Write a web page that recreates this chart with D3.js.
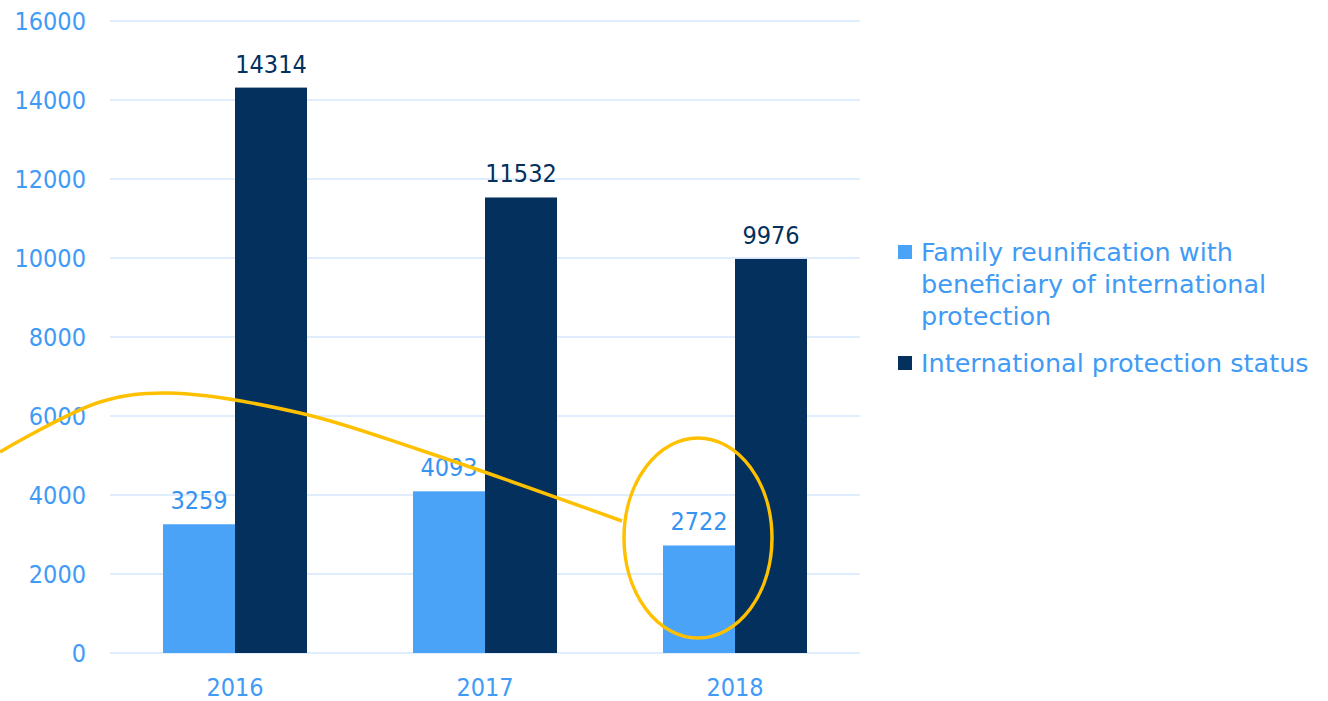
<!DOCTYPE html>
<html>
<head>
<meta charset="utf-8">
<script src="https://cdn.jsdelivr.net/npm/d3@7"></script>
<style>
  body { margin: 0; background: #fff; }
  text { font-family: "DejaVu Sans Condensed", "DejaVu Sans", sans-serif; }
  .legend text { font-family: "DejaVu Sans", sans-serif; }
</style>
</head>
<body>
<div id="chart"></div>
<script>
// data
const years = ["2016", "2017", "2018"];
const seriesNames = ["Family reunification with beneficiary of international protection",
                     "International protection status"];
const familyReunification = [3259, 4093, 2722];
const protectionStatus = [14314, 11532, 9976];
const yTicks = [0, 2000, 4000, 6000, 8000, 10000, 12000, 14000, 16000];
const legendLines = [["Family reunification with", "beneficiary of international", "protection"],
                     ["International protection status"]];

// hand-drawn highlight: [band position, value]
const annotationCurve = [[-0.44, 5089], [-0.04, 6354], [0.228, 6582], [0.76, 6076], [1.24, 5139], [2.048, 3342]];
const annotationEllipse = {u: 2.352, v: 2911, ru: 0.296, rv: 2532};

const width = 1328, height = 701;
const margin = {top: 21, right: 468, bottom: 48, left: 110};
const plotW = width - margin.left - margin.right,
      plotH = height - margin.top - margin.bottom;

const colors = ["#4ba3f8", "#03305c"];
const labelColors = ["#3593f2", "#03305c"];
const textBlue = "#3f9bf5";

const svg = d3.select("#chart")
  .append("svg")
  .attr("width", width)
  .attr("height", height);

const g = svg.append("g")
  .attr("transform", `translate(${margin.left}, ${margin.top})`);

const x0 = d3.scaleBand()
  .domain(years)
  .range([0, plotW])
  .paddingInner(0)
  .paddingOuter(0);

const x1 = d3.scaleBand()
  .domain([0, 1])
  .range([53, x0.bandwidth() - 53]);

const y = d3.scaleLinear()
  .domain([0, 16000])
  .range([plotH, 0]);

// gridlines
g.append("g")
  .selectAll("line")
  .data(yTicks)
  .join("line")
  .attr("x1", 0)
  .attr("x2", plotW)
  .attr("y1", d => y(d))
  .attr("y2", d => y(d))
  .attr("stroke", "#d5e7fb")
  .attr("stroke-width", 1.5);

// y axis labels
const yAxis = g.append("g")
  .call(d3.axisLeft(y).tickValues(yTicks).tickSize(0).tickPadding(24).tickFormat(d3.format("d")));
yAxis.select(".domain").remove();
yAxis.selectAll("text")
  .attr("fill", textBlue)
  .style("font-size", "25px");

// x axis labels
const xAxis = g.append("g")
  .attr("transform", `translate(0, ${plotH})`)
  .call(d3.axisBottom(x0).tickSize(0).tickPadding(25));
xAxis.select(".domain").remove();
xAxis.selectAll("text")
  .attr("fill", textBlue)
  .style("font-size", "25px");

const rows = years.map((yr, i) => ({year: yr, values: [familyReunification[i], protectionStatus[i]]}));

const groups = g.append("g")
  .selectAll("g")
  .data(rows)
  .join("g")
  .attr("transform", d => `translate(${x0(d.year)}, 0)`);

groups.selectAll("rect")
  .data(d => d.values.map((v, k) => ({k, v})))
  .join("rect")
  .attr("x", d => x1(d.k))
  .attr("width", x1.bandwidth())
  .attr("y", d => y(d.v))
  .attr("height", d => y(0) - y(d.v))
  .attr("fill", d => colors[d.k]);

groups.selectAll("text.lbl")
  .data(d => d.values.map((v, k) => ({k, v})))
  .join("text")
  .attr("class", "lbl")
  .attr("x", d => x1(d.k) + x1.bandwidth() / 2)
  .attr("y", d => y(d.v) - 15)
  .attr("text-anchor", "middle")
  .attr("fill", d => labelColors[d.k])
  .style("font-size", "25px")
  .text(d => d.v);

// legend
const legend = svg.append("g")
  .attr("class", "legend")
  .attr("transform", "translate(898, 0)");
const legendSquare = [245, 356];
const legendBase = [261, 372];
legendLines.forEach((lines, k) => {
  const item = legend.append("g");
  item.append("rect")
    .attr("y", legendSquare[k])
    .attr("width", 14)
    .attr("height", 14)
    .attr("fill", colors[k]);
  item.selectAll("text")
    .data(lines)
    .join("text")
    .attr("x", 23)
    .attr("y", (d, i) => legendBase[k] + i * 32)
    .attr("fill", textBlue)
    .style("font-size", "25.5px")
    .text(d => d);
});

// yellow highlight drawn on top
const ux = u => u * x0.step();
g.append("path")
  .datum(annotationCurve)
  .attr("fill", "none")
  .attr("stroke", "#ffc000")
  .attr("stroke-width", 3.5)
  .attr("d", d3.line()
    .x(d => ux(d[0]))
    .y(d => y(d[1]))
    .curve(d3.curveCatmullRom));

g.append("ellipse")
  .attr("cx", ux(annotationEllipse.u))
  .attr("cy", y(annotationEllipse.v))
  .attr("rx", ux(annotationEllipse.ru))
  .attr("ry", y(0) - y(annotationEllipse.rv))
  .attr("fill", "none")
  .attr("stroke", "#ffc000")
  .attr("stroke-width", 3.5);
</script>
</body>
</html>
